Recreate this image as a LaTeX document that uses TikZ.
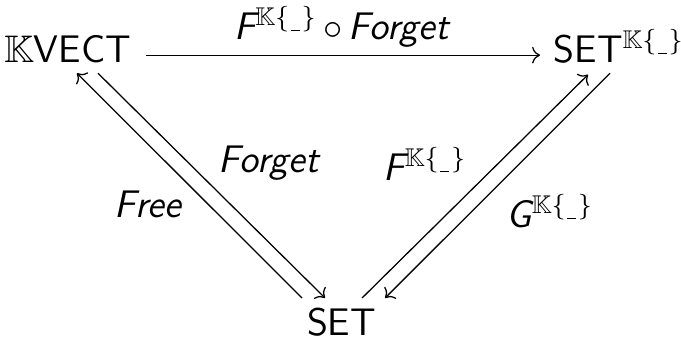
\documentclass[tikz,border=0pt]{standalone}
\usepackage{amssymb}
\usetikzlibrary{arrows.meta}

% thin placeholder bar for the exponent
\newcommand{\blankslot}{\mbox{\kern0.6pt\rule[-1.8pt]{2.8pt}{0.4pt}\kern0.6pt}}
\newcommand{\kexp}{^{\mathbb{K}\{\blankslot\}}}

\begin{document}
\begin{tikzpicture}[
  font=\sffamily\fontsize{12}{14}\selectfont,
  obj/.style={anchor=base, inner sep=0pt},
  lbl/.style={anchor=base, inner sep=0pt, font=\sffamily\itshape\fontsize{12}{14}\selectfont},
  arrow/.style={-{To}, line width=0.4pt},
]
\useasboundingbox (0,0) rectangle (7.479,3.701);

% Objects
\node[obj] (kvect) at (0.741, 3.018) {$\mathbb{K}$VECT};
\node[obj, anchor=base west] (setk) at (6.074, 3.018) {SET$\kexp$};
\node[obj] (sset) at (3.751, 0.011) {SET};

% Top arrow
\draw[arrow] ([shift={(0.862,0.077)}]kvect.base) -- ([shift={(-0.143,0.077)}]setk.base west);
\node[lbl] (ltop) at (3.751, 3.267) {F$\kexp\,\circ\,$Forget};

% Left pair: Free / Forget
\draw[arrow] ([shift={(-0.434,0.417)}]sset.base) -- ([shift={(0.104,-0.121)}]kvect.base);
\draw[arrow] ([shift={(0.335,-0.121)}]kvect.base) -- ([shift={(-0.181,0.417)}]sset.base);
\node[lbl] (lfree) at (1.625, 1.307) {Free};
\node[lbl] (lforget) at (2.954, 1.812) {Forget};

% Right pair: F / G
\draw[arrow] ([shift={(0.225,0.417)}]sset.base) -- ([shift={(0.384,-0.137)}]setk.base west);
\draw[arrow] ([shift={(0.626,-0.121)}]setk.base west) -- ([shift={(0.478,0.417)}]sset.base);
\node[lbl] (lf) at (4.668, 1.724) {F$\kexp$};
\node[lbl] (lg) at (6.041, 1.208) {G$\kexp$};

\end{tikzpicture}
\end{document}
